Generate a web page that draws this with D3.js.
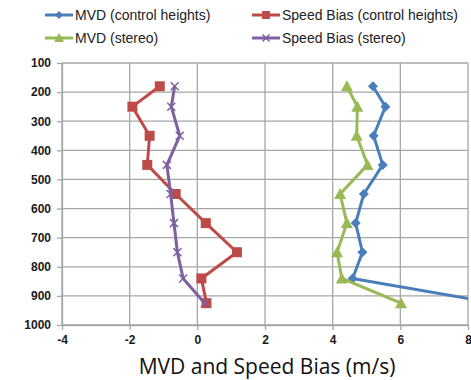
<!DOCTYPE html>
<html>
<head>
<meta charset="utf-8">
<script src="https://cdn.jsdelivr.net/npm/d3@7"></script>
<style>
  body { margin: 0; background: #fff; }
  svg { display: block; font-family: "Liberation Sans", Arial, sans-serif; }
</style>
</head>
<body>
<div id="chart"></div>
<script>
// pressure levels (hPa) and the four series (m/s)
var levels = [180, 250, 350, 450, 550, 650, 750, 840, 925];
var mvdControl = [5.19, 5.56, 5.21, 5.48, 4.92, 4.68, 4.88, 4.59, 8.8];
var biasControl = [-1.11, -1.92, -1.41, -1.48, -0.64, 0.25, 1.17, 0.12, 0.27];
var mvdStereo = [4.42, 4.73, 4.71, 5.03, 4.22, 4.42, 4.13, 4.27, 6.02];
var biasStereo = [-0.67, -0.77, -0.52, -0.90, -0.79, -0.69, -0.59, -0.42, 0.22];
var xTicks = [-4, -2, 0, 2, 4, 6, 8];
var yTicks = [100, 200, 300, 400, 500, 600, 700, 800, 900, 1000];

var series = [
  {name: "MVD (control heights)", values: mvdControl, color: "#4a7ebb", marker: "diamond"},
  {name: "Speed Bias (control heights)", values: biasControl, color: "#be4b48", marker: "square"},
  {name: "MVD (stereo)", values: mvdStereo, color: "#98b954", marker: "triangle"},
  {name: "Speed Bias (stereo)", values: biasStereo, color: "#7d60a0", marker: "x"}
];

var width = 471, height = 380;
var margin = {top: 63, right: 3, bottom: 55, left: 62};

var svg = d3.select("#chart").append("svg")
    .attr("width", width)
    .attr("height", height);

var x = d3.scaleLinear().domain([-4, 8]).range([margin.left, width - margin.right]);
var y = d3.scaleLinear().domain([100, 1000]).range([margin.top, height - margin.bottom]);

svg.append("defs").append("clipPath").attr("id", "plotclip")
  .append("rect")
    .attr("x", margin.left).attr("y", margin.top - 10)
    .attr("width", x(8) - margin.left).attr("height", y(1000) - margin.top + 20);

// grid
var grid = svg.append("g").attr("stroke", "#a6a6a6").attr("stroke-width", 1.3);
grid.selectAll(".gx").data(xTicks).enter().append("line")
    .attr("x1", function(d) { return x(d); }).attr("x2", function(d) { return x(d); })
    .attr("y1", y(100)).attr("y2", y(1000));
grid.selectAll(".gy").data(yTicks).enter().append("line")
    .attr("x1", x(-4)).attr("x2", x(8))
    .attr("y1", function(d) { return y(d); }).attr("y2", function(d) { return y(d); });

// axes (plain hyphen minus, no thousands separator)
var fmt = function(d) { return String(d); };
var xAxis = svg.append("g")
    .attr("transform", "translate(0," + y(1000) + ")")
    .call(d3.axisBottom(x).tickValues(xTicks).tickFormat(fmt).tickSize(5).tickSizeOuter(0));
var yAxis = svg.append("g")
    .attr("transform", "translate(" + x(-4) + ",0)")
    .call(d3.axisLeft(y).tickValues(yTicks).tickFormat(fmt).tickSize(5).tickSizeOuter(0));

[xAxis, yAxis].forEach(function(a) {
  a.select(".domain").attr("stroke", "#a6a6a6").attr("stroke-width", 1.3);
  a.selectAll(".tick line").attr("stroke", "#a6a6a6").attr("stroke-width", 1.3);
  a.selectAll("text")
    .attr("fill", "#1a1a1a")
    .style("font-family", "'Liberation Sans', Arial, sans-serif")
    .style("font-size", "12px")
    .style("font-weight", "bold");
});
xAxis.selectAll("text").attr("dy", "0.9em");
yAxis.selectAll("text").attr("x", -11);

svg.append("text")
    .attr("x", (x(-4) + x(8)) / 2 + 2)
    .attr("y", 374)
    .attr("text-anchor", "middle")
    .style("font-family", "'Open Sans', sans-serif")
    .style("font-size", "21px")
    .attr("fill", "#111")
    .text("MVD and Speed Bias (m/s)");

var line = d3.line()
    .x(function(d) { return x(d[0]); })
    .y(function(d) { return y(d[1]); });

function drawMarker(g, type, color, size) {
  if (type === "diamond") {
    g.append("path").attr("d", "M0,-" + size + "L" + size + ",0L0," + size + "L-" + size + ",0Z").attr("fill", color);
  } else if (type === "square") {
    g.append("rect").attr("x", -size).attr("y", -size).attr("width", size * 2).attr("height", size * 2).attr("fill", color);
  } else if (type === "triangle") {
    g.append("path").attr("d", "M0,-" + (size + 1) + "L" + (size + 1) + "," + size + "L-" + (size + 1) + "," + size + "Z").attr("fill", color);
  } else {
    g.append("path").attr("d", "M-" + size + ",-" + size + "L" + size + "," + size + "M" + size + ",-" + size + "L-" + size + "," + size)
      .attr("stroke", color).attr("stroke-width", 1.5).attr("fill", "none");
  }
}

var plot = svg.append("g").attr("clip-path", "url(#plotclip)");
var msize = {diamond: 5, square: 5, triangle: 5, x: 4};

series.forEach(function(s) {
  var pts = s.values.map(function(v, i) { return [v, levels[i]]; });
  plot.append("path")
      .datum(pts)
      .attr("d", line)
      .attr("fill", "none")
      .attr("stroke", s.color)
      .attr("stroke-width", 3)
      .attr("stroke-linejoin", "round");
  pts.forEach(function(p) {
    if (p[0] > 8) return;
    var g = plot.append("g").attr("transform", "translate(" + x(p[0]) + "," + y(p[1]) + ")");
    drawMarker(g, s.marker, s.color, msize[s.marker]);
  });
});

// legend
var legendPos = [[45, 15], [252, 15], [45, 38], [252, 38]];
series.forEach(function(s, i) {
  var lg = svg.append("g").attr("transform", "translate(" + legendPos[i][0] + "," + legendPos[i][1] + ")");
  lg.append("line").attr("x1", 0).attr("x2", 28).attr("y1", 0).attr("y2", 0)
    .attr("stroke", s.color).attr("stroke-width", 3);
  var m = lg.append("g").attr("transform", "translate(14,0)");
  drawMarker(m, s.marker, s.color, s.marker === "x" ? 3.5 : 4);
  lg.append("text").attr("x", 30).attr("y", 5)
    .style("font-size", "14px").attr("fill", "#222")
    .text(s.name);
});
</script>
</body>
</html>
